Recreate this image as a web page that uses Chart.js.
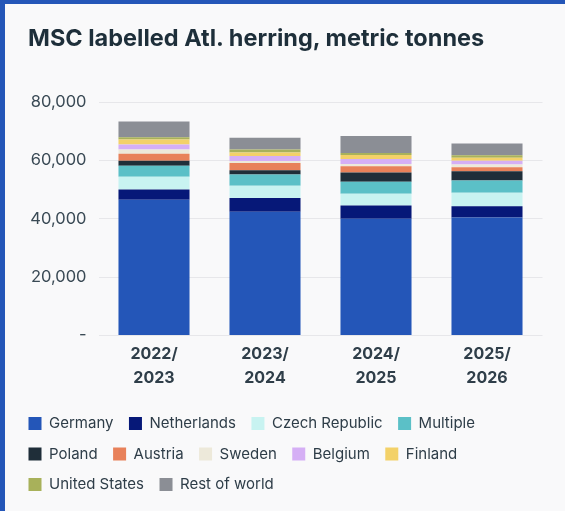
<!DOCTYPE html>
<html>
<head>
<meta charset="utf-8">
<script src="https://cdn.jsdelivr.net/npm/chart.js@4"></script>
<style>
  html, body { margin: 0; padding: 0; background: #f9f9fa; }
  #wrap {
    width: 565px; height: 511px; box-sizing: border-box;
    border-left: 5px solid #2456b8; border-top: 4px solid #2456b8;
    background: #f9f9fa; position: relative;
  }
  #title {
    position: absolute; left: 23px; top: 22px; margin: 0;
    font-family: Inter, sans-serif; font-weight: bold; font-size: 23.5px;
    line-height: 1; color: #1e2f3a; white-space: nowrap;
  }
  #chart { display: block; }
</style>
</head>
<body>
<div id="wrap">
  <h1 id="title">MSC labelled Atl. herring, metric tonnes</h1>
  <canvas id="chart" width="560" height="507"></canvas>
</div>
<script>
const seasons = [["2022/", "2023"], ["2023/", "2024"], ["2024/", "2025"], ["2025/", "2026"]];

const germany       = [46500, 42440, 40000, 40460];
const netherlands   = [3490, 4650, 4530, 3840];
const czechRepublic = [4420, 4190, 4070, 4650];
const multiple      = [3720, 3840, 4070, 4190];
const poland        = [1740, 1510, 3140, 3140];
const austria       = [2440, 2440, 2210, 1400];
const sweden        = [1400, 700, 700, 930];
const belgium       = [1740, 1740, 1740, 1280];
const finland       = [1740, 1160, 1400, 1050];
const unitedStates  = [700, 1050, 700, 810];
const restOfWorld   = [5470, 4070, 5810, 4070];

const yTicks = [0, 20000, 40000, 60000, 80000];

const series = [
  { label: "Germany", data: germany, color: "#2456b8" },
  { label: "Netherlands", data: netherlands, color: "#061878" },
  { label: "Czech Republic", data: czechRepublic, color: "#c8f3f1" },
  { label: "Multiple", data: multiple, color: "#5bc0c7" },
  { label: "Poland", data: poland, color: "#1f2e39" },
  { label: "Austria", data: austria, color: "#e8815a" },
  { label: "Sweden", data: sweden, color: "#ede9da" },
  { label: "Belgium", data: belgium, color: "#d5aff5" },
  { label: "Finland", data: finland, color: "#f3d168" },
  { label: "United States", data: unitedStates, color: "#a8b15a" },
  { label: "Rest of world", data: restOfWorld, color: "#8b8e95" }
];

function fmtTick(v) {
  if (v === 0) return "-";
  return v.toLocaleString("en-US");
}

const ctx = document.getElementById("chart").getContext("2d");

new Chart(ctx, {
  type: "bar",
  data: {
    labels: seasons,
    datasets: series.map(s => ({
      label: s.label,
      data: s.data,
      backgroundColor: s.color,
      borderWidth: 0,
      barPercentage: 0.8,
      categoryPercentage: 0.8
    }))
  },
  options: {
    responsive: false,
    animation: false,
    layout: { padding: { left: 8, right: 22.5, top: 98, bottom: 9 } },
    plugins: {
      legend: {
        position: "bottom",
        align: "start",
        labels: {
          color: "#2e3d48",
          font: { family: "Inter", size: 15 },
          boxWidth: 13,
          boxHeight: 13,
          padding: 15.5
        }
      },
      tooltip: { enabled: false }
    },
    scales: {
      x: {
        stacked: true,
        grid: { display: false, drawTicks: false },
        border: { display: false },
        afterFit(scale) {
          scale.height += 4;
        },
        ticks: {
          color: "#2f3e49",
          font: { family: "Inter", size: 16, weight: "bold", lineHeight: 1.5 },
          padding: 6.5,
          maxRotation: 0
        }
      },
      y: {
        stacked: true,
        min: 0,
        max: 80000,
        afterBuildTicks(scale) {
          scale.ticks = yTicks.map(v => ({ value: v }));
        },
        afterFit(scale) {
          scale.width = 85.5;
        },
        grid: { color: "#e7e7ea", drawTicks: false },
        border: { display: false },
        ticks: {
          color: "#3a4a55",
          font: { family: "Inter", size: 16.5 },
          padding: 12,
          callback: v => fmtTick(v)
        }
      }
    }
  }
});
</script>
</body>
</html>
